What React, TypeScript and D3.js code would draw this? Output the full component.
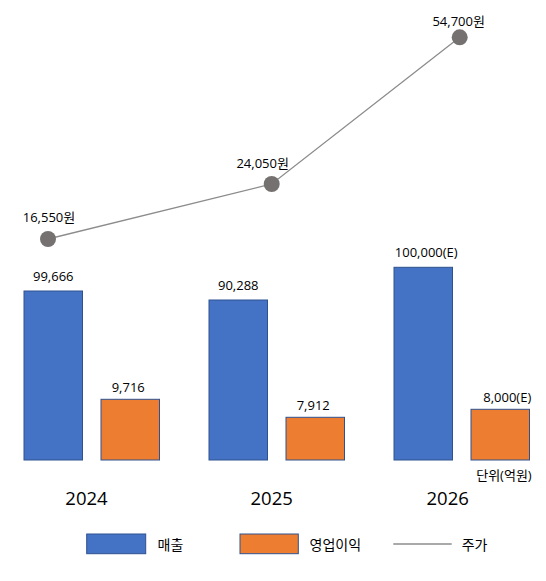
import React from 'react';
import * as d3 from 'd3';

const years = ['2024', '2025', '2026'];
const revenue = [99666, 90288, 100000];
const revenueLabels = ['99,666', '90,288', '100,000(E)'];
const opProfit = [9716, 7912, 8000];
const opProfitLabels = ['9,716', '7,912', '8,000(E)'];
const price = [16550, 24050, 54700];
const priceLabels = ['16,550원', '24,050원', '54,700원'];
const legendItems = ['매출', '영업이익', '주가'];
const unitLabel = '단위(억원)';

const W = 546;
const H = 581;
const BASE = 460;
const BLUE = '#4472C4';
const ORANGE = '#ED7D31';
const EDGE = '#2F528F';
const GRAY = '#767171';
const FONT = "'Open Sans', 'Noto Sans CJK KR', sans-serif";

export default function App() {
  // category positions
  const xGroup = d3.scalePoint<string>().domain(years).range([24, 394]);
  const barW = 58.5;
  const orangeOffset = 77;
  // value scales (piecewise, as in the hand-laid source)
  const sortedRev = [...revenue].sort((a, b) => a - b);
  const yRev = d3.scaleLinear().domain([0, ...sortedRev]).range([BASE, 300, 291, 267.3]);
  const sortedOp = [...opProfit].sort((a, b) => a - b);
  const yOp = d3.scaleLinear().domain([0, ...sortedOp]).range([BASE, 417.3, 409.3, 399.3]);
  const yPrice = d3.scaleLinear().domain(price).range([239, 184, 37.3]);
  const xPrice = d3.scaleLinear().domain([0, 1, 2]).range([48, 271.7, 459.7]);
  const xYear = d3.scaleLinear().domain([0, 1, 2]).range([86.5, 271.7, 447.7]);

  const line = d3
    .line<number>()
    .x((_, i) => xPrice(i))
    .y((d) => yPrice(d));

  const priceLabelDx = [1, -9, -1];
  const priceLabelDy = [-17, -16, -11.5];

  return (
    <svg
      width={W}
      height={H}
      style={{ position: 'absolute', left: 0, top: 0, background: '#fff' }}
      fontFamily={FONT}
    >
      <rect x={0} y={0} width={W} height={H} fill="#fff" />
      {years.map((y, i) => {
        const x0 = xGroup(y)!;
        const rTop = yRev(revenue[i]);
        const oTop = yOp(opProfit[i]);
        return (
          <g key={y}>
            <rect x={x0} y={rTop} width={barW} height={BASE - rTop} fill={BLUE} stroke={EDGE} strokeWidth={1} />
            <rect
              x={x0 + orangeOffset}
              y={oTop}
              width={barW}
              height={BASE - oTop}
              fill={ORANGE}
              stroke={EDGE}
              strokeWidth={1}
            />
            <text x={x0 + barW / 2 + (i === 2 ? 3 : 0)} y={rTop - 10} textAnchor="middle" fontSize={13} fill="#000">
              {revenueLabels[i]}
            </text>
            <text
              x={x0 + orangeOffset + barW / 2 + (i === 2 ? 7 : -2)}
              y={oTop - 7.5}
              textAnchor="middle"
              fontSize={13}
              fill="#000"
            >
              {opProfitLabels[i]}
            </text>
            <text x={xYear(i)} y={505} textAnchor="middle" fontSize={18.5} fill="#000">
              {y}
            </text>
          </g>
        );
      })}
      <text x={531.7} y={479.5} textAnchor="end" fontSize={13} fill="#000">
        {unitLabel}
      </text>
      <path d={line(price) ?? ''} fill="none" stroke="#8c8c8c" strokeWidth={1.3} />
      {price.map((p, i) => (
        <g key={i}>
          <circle cx={xPrice(i)} cy={yPrice(p)} r={8} fill={GRAY} />
          <text
            x={xPrice(i) + priceLabelDx[i]}
            y={yPrice(p) + priceLabelDy[i]}
            textAnchor="middle"
            fontSize={13}
            fill="#000"
          >
            {priceLabels[i]}
          </text>
        </g>
      ))}
      {/* legend */}
      <g fontSize={14} fill="#000">
        <rect x={86.7} y={534} width={59} height={19.7} fill={BLUE} stroke={EDGE} strokeWidth={1} />
        <text x={157.5} y={549.5}>{legendItems[0]}</text>
        <rect x={240} y={534} width={58.3} height={19.7} fill={ORANGE} stroke={EDGE} strokeWidth={1} />
        <text x={309.5} y={549.5}>{legendItems[1]}</text>
        <line x1={393.3} x2={451.7} y1={544} y2={544} stroke="#8c8c8c" strokeWidth={1.3} />
        <text x={461.7} y={549.5}>{legendItems[2]}</text>
      </g>
    </svg>
  );
}
